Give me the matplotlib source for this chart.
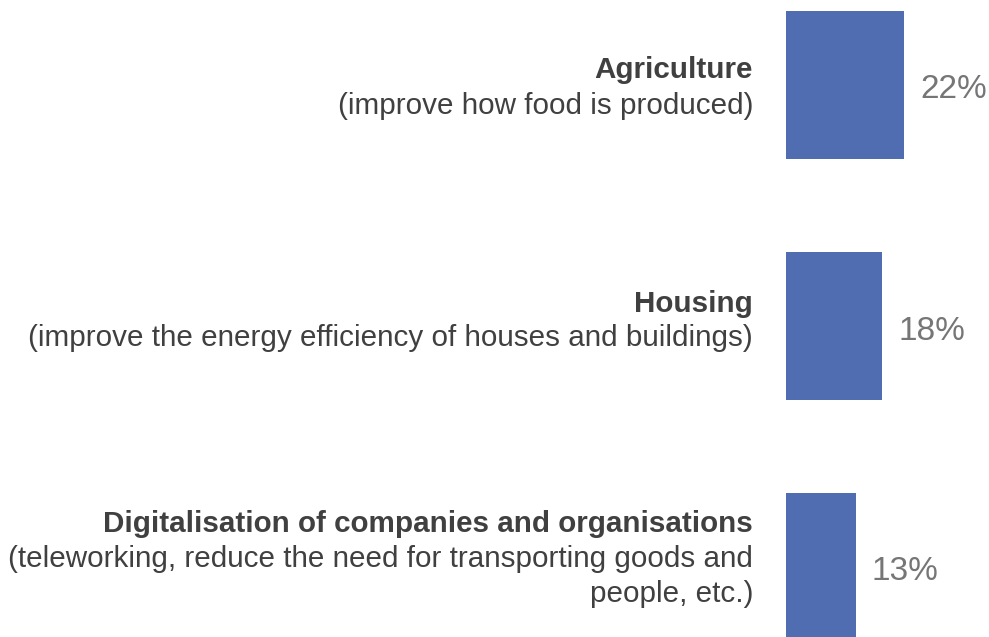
import matplotlib.pyplot as plt

plt.rcParams['font.family'] = ['Liberation Sans', 'DejaVu Sans']

categories = ["Agriculture", "Housing", "Digitalisation of companies and organisations"]
subtitles = [
    ["(improve how food is produced)"],
    ["(improve the energy efficiency of houses and buildings)"],
    ["(teleworking, reduce the need for transporting goods and", "people, etc.)"],
]
shares = [22, 18, 13]

BAR_COLOR = "#4f6db0"
TEXT_COLOR = "#404040"
VALUE_COLOR = "#767676"

W, H = 989, 637
fig = plt.figure(figsize=(W / 100, H / 100), dpi=100)

# axes starts where the bars start; x scale is ~5.36 px per percent
x0_px = 786
px_per_pct = 5.36
ax = fig.add_axes([x0_px / W, 0, 1 - x0_px / W, 1])
ax.set_xlim(0, (W - x0_px) / px_per_pct)

# rows are 241 px apart, first bar centred 85 px from top
row_px = 241
ax.set_ylim(2 + (H - 567) / row_px, -85 / row_px)
ax.axis("off")

pos = list(range(len(categories)))
ax.barh(pos, shares, height=148 / row_px, color=BAR_COLOR)

line_h = 35 / row_px          # line spacing in data units
label_x = -(x0_px - 753) / px_per_pct
block_shift = [3, -5, -8]     # px nudge of each label block vs bar centre
for y, name, subs, v, dy in zip(pos, categories, subtitles, shares, block_shift):
    lines = [name] + subs
    n = len(lines)
    top = y + dy / row_px - (n - 1) * line_h / 2
    for k, line in enumerate(lines):
        ax.text(label_x, top + k * line_h, line, ha="right", va="center",
                fontsize=21.3, color=TEXT_COLOR,
                fontweight="bold" if k == 0 else "normal", clip_on=False)
    ax.text(v + 3, y + 5 / row_px, f"{v}%", ha="left", va="center",
            fontsize=24, color=VALUE_COLOR)

fig.savefig("out.png", dpi=100)
